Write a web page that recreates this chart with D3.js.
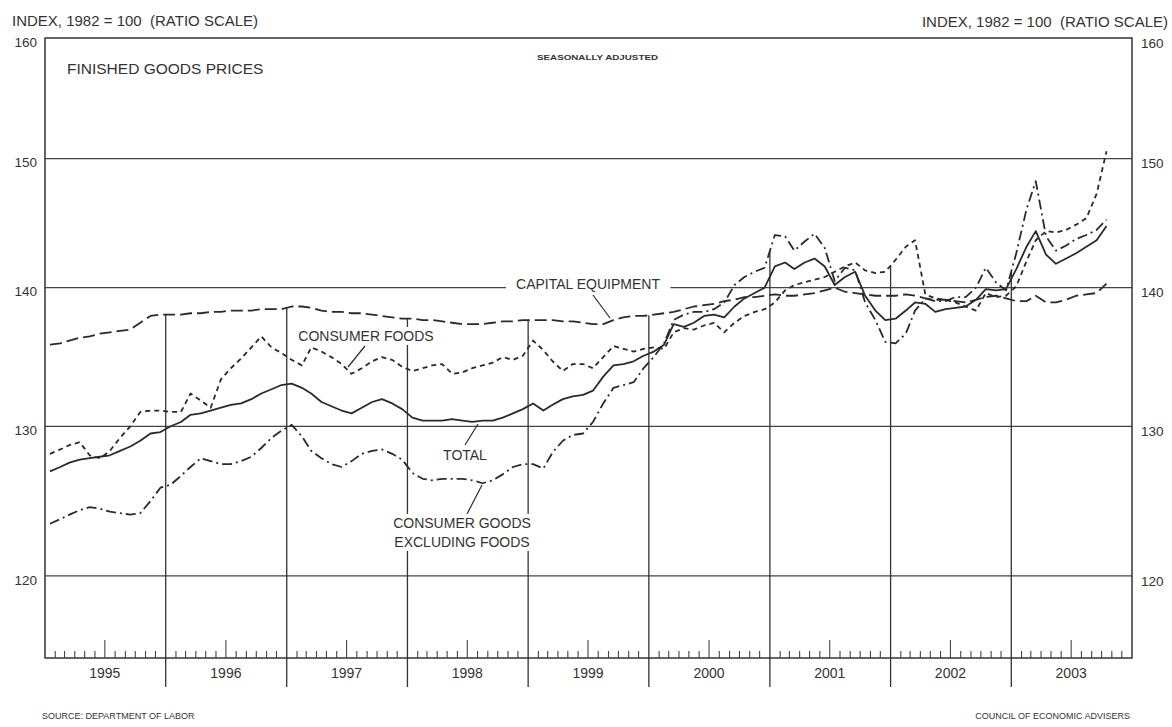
<!DOCTYPE html>
<html>
<head>
<meta charset="utf-8">
<script src="https://cdn.jsdelivr.net/npm/d3@7"></script>
<style>
  html, body { margin: 0; padding: 0; background: #fff; }
  svg text { font-family: 'Liberation Sans', Arial, sans-serif; fill: #333; white-space: pre; }
</style>
</head>
<body>
<svg id="chart" width="1172" height="727"></svg>
<script>
// ---------------- DATA (monthly, seasonally adjusted, Jan 1995 - Oct 2003) ----------------
const firstMonth = [1995, 0];
const monthCount = 106;
const yTicks = [120, 130, 140, 150, 160];
const years = [1995, 1996, 1997, 1998, 1999, 2000, 2001, 2002, 2003];

const capitalEquipment = [
  135.8,135.9,136.1,136.3,136.4,136.6,136.7,136.8,136.9,137.4,137.9,138.0,
  138.0,138.0,138.1,138.1,138.2,138.2,138.3,138.3,138.3,138.4,138.4,138.4,
  138.6,138.6,138.5,138.3,138.2,138.2,138.1,138.1,138.0,137.9,137.8,137.7,
  137.7,137.6,137.6,137.5,137.4,137.3,137.3,137.3,137.4,137.5,137.5,137.6,
  137.6,137.6,137.6,137.5,137.5,137.4,137.3,137.3,137.6,137.8,137.9,137.9,
  138.0,138.1,138.2,138.4,138.6,138.7,138.8,139.0,139.1,139.3,139.3,139.4,
  139.5,139.4,139.4,139.5,139.6,139.8,140.0,139.7,139.6,139.5,139.4,139.4,
  139.4,139.5,139.4,139.2,139.1,139.1,139.0,138.9,139.1,139.3,139.4,139.2,
  139.0,139.0,139.4,138.9,138.9,139.1,139.4,139.5,139.6,140.3
];
const consumerFoods = [
  128.1,128.4,128.7,128.9,128.0,127.8,128.3,129.2,130.0,131.0,131.1,131.1,
  131.0,131.0,132.3,131.8,131.3,133.3,134.1,134.8,135.6,136.4,135.6,135.2,
  134.7,134.3,135.6,135.3,134.9,134.4,133.7,134.1,134.6,134.9,134.7,134.2,
  133.9,134.1,134.3,134.4,133.7,133.8,134.1,134.3,134.5,134.9,134.7,135.0,
  136.1,135.4,134.6,133.9,134.4,134.4,134.1,134.9,135.7,135.5,135.3,135.5,
  135.6,135.5,136.7,137.0,136.9,137.2,137.4,136.7,137.4,137.9,138.2,138.4,
  138.9,139.8,140.2,140.4,140.6,140.8,141.2,141.6,141.9,141.3,141.1,141.2,
  142.1,143.1,143.6,139.5,139.2,139.1,138.9,138.6,138.3,139.6,139.3,139.4,
  140.1,142.0,143.6,144.3,144.2,144.4,144.8,145.3,147.2,150.6
];
const totalFinished = [
  126.9,127.2,127.5,127.7,127.8,127.9,128.0,128.3,128.6,129.0,129.5,129.6,
  130.0,130.3,130.8,130.9,131.1,131.3,131.5,131.6,131.9,132.3,132.6,132.9,
  133.0,132.7,132.3,131.7,131.4,131.1,130.9,131.3,131.7,131.9,131.6,131.2,
  130.6,130.4,130.4,130.4,130.5,130.4,130.3,130.4,130.4,130.6,130.9,131.2,
  131.6,131.1,131.5,131.9,132.1,132.2,132.5,133.5,134.3,134.4,134.6,135.0,
  135.3,135.8,137.3,137.1,137.4,137.9,138.0,137.8,138.6,139.2,139.6,140.0,
  141.6,141.9,141.4,141.9,142.2,141.6,140.2,140.8,141.2,139.4,138.3,137.6,
  137.7,138.3,138.9,138.8,138.2,138.4,138.5,138.6,139.1,139.9,139.8,139.9,
  141.4,143.1,144.3,142.5,141.8,142.2,142.6,143.1,143.6,144.7
];
const consumerGoodsExFoods = [
  123.4,123.7,124.0,124.3,124.5,124.4,124.2,124.1,124.0,124.1,124.9,125.8,
  126.0,126.6,127.2,127.8,127.6,127.4,127.4,127.6,127.9,128.5,129.2,129.7,
  130.1,129.3,128.3,127.8,127.4,127.2,127.6,128.1,128.3,128.4,128.1,127.7,
  126.8,126.4,126.3,126.4,126.4,126.4,126.3,126.1,126.3,126.7,127.2,127.4,
  127.4,127.1,128.2,129.0,129.4,129.5,130.3,131.6,132.7,132.9,133.1,134.1,
  134.9,135.9,137.6,138.0,138.2,138.2,138.4,138.9,140.2,140.8,141.2,141.5,
  144.0,143.9,142.8,143.5,144.1,143.0,140.5,141.5,141.3,138.9,137.6,136.0,
  135.9,136.6,138.3,139.2,139.0,139.0,139.3,139.3,140.0,141.5,140.4,139.8,
  142.6,146.0,148.2,143.9,142.8,143.2,143.7,144.0,144.4,145.2
];

const seriesList = [
  { name: "CAPITAL EQUIPMENT", values: capitalEquipment, dash: "12,5" },
  { name: "CONSUMER FOODS", values: consumerFoods, dash: "5,4" },
  { name: "TOTAL", values: totalFinished, dash: null },
  { name: "CONSUMER GOODS EXCLUDING FOODS", values: consumerGoodsExFoods, dash: "10,4,2,4" }
];

// ---------------- LAYOUT ----------------
const L = 45, R = 1132, T = 38, B = 658;
const svg = d3.select("#chart");
svg.append("rect").attr("width", 1172).attr("height", 727).attr("fill", "#fff");

const months = d3.range(monthCount).map(i => new Date(firstMonth[0], firstMonth[1] + i, 16));
const x = d3.scaleTime().domain([new Date(1995, 0, 1), new Date(2004, 0, 1)]).range([L, R]);
const y = d3.scaleLog().domain([114.85, 160]).range([B, T]);

const ink = "#2a2a2a";

// horizontal grid lines
svg.append("g").selectAll("line").data(yTicks.filter(v => v < 160)).join("line")
  .attr("x1", L).attr("x2", R)
  .attr("y1", d => y(d)).attr("y2", d => y(d))
  .attr("stroke", "#444").attr("stroke-width", 1.3);

// frame
svg.append("rect").attr("x", L).attr("y", T).attr("width", R - L).attr("height", B - T)
  .attr("fill", "none").attr("stroke", "#333").attr("stroke-width", 1.5);

// month ticks (inside, pointing up)
const monthTicks = d3.timeMonth.range(new Date(1995, 1, 1), new Date(2004, 0, 1)).filter(d => d.getMonth() !== 0);
svg.append("g").selectAll("line").data(monthTicks).join("line")
  .attr("x1", d => x(d)).attr("x2", d => x(d))
  .attr("y1", B).attr("y2", d => d.getMonth() === 6 ? B - 18 : B - 7)
  .attr("stroke", "#444").attr("stroke-width", 1.1);

// vertical year separators, starting at the highest series value at the boundary
const boundaries = years.slice(1).map(yr => {
  const k = (yr - 1995) * 12;
  const top = d3.max(seriesList, s => (s.values[k - 1] + s.values[k]) / 2);
  return { date: new Date(yr, 0, 1), top };
});
svg.append("g").selectAll("line").data(boundaries).join("line")
  .attr("x1", d => x(d.date)).attr("x2", d => x(d.date))
  .attr("y1", d => y(d.top)).attr("y2", B + 29)
  .attr("stroke", "#333").attr("stroke-width", 1.3);

// series lines
const line = d3.line().x((d, i) => x(months[i])).y(d => y(d));
svg.append("g").selectAll("path").data(seriesList).join("path")
  .attr("d", d => line(d.values))
  .attr("fill", "none").attr("stroke", ink).attr("stroke-width", 1.8)
  .attr("stroke-linejoin", "round")
  .attr("stroke-dasharray", d => d.dash);

// y tick labels, left and right
svg.append("g").selectAll("text").data(yTicks).join("text")
  .attr("x", 37).attr("y", d => y(d) + 4).attr("dy", "0.35em")
  .attr("text-anchor", "end").attr("font-size", 13.5).text(d => d);
svg.append("g").selectAll("text").data(yTicks).join("text")
  .attr("x", 1141).attr("y", d => y(d) + 5).attr("dy", "0.35em")
  .attr("text-anchor", "start").attr("font-size", 13.5).text(d => d);

// year labels
svg.append("g").selectAll("text").data(years).join("text")
  .attr("x", d => x(new Date(d, 6, 1))).attr("y", 678)
  .attr("text-anchor", "middle").attr("font-size", 14).text(d => d);

// headers
const headerText = "INDEX, 1982 = 100\u00A0\u00A0(RATIO SCALE)";
svg.append("text").attr("x", 12).attr("y", 26).attr("font-size", 15).text(headerText);
svg.append("text").attr("x", 1168).attr("y", 27).attr("text-anchor", "end").attr("font-size", 15).text(headerText);
svg.append("text").attr("x", 67).attr("y", 74).attr("font-size", 15.5).text("FINISHED GOODS PRICES");
svg.append("text").attr("x", 537).attr("y", 60).attr("font-size", 7.5).attr("font-weight", "bold")
  .attr("textLength", 121).attr("lengthAdjust", "spacingAndGlyphs").text("SEASONALLY ADJUSTED");

// footers
svg.append("text").attr("x", 42).attr("y", 719).attr("font-size", 9).text("SOURCE: DEPARTMENT OF LABOR");
svg.append("text").attr("x", 1130).attr("y", 719).attr("text-anchor", "end").attr("font-size", 9).text("COUNCIL OF ECONOMIC ADVISERS");

// series labels with white backgrounds and pointer lines
const labels = [
  { lines: ["CAPITAL EQUIPMENT"], cx: 588, cy: 284, pointer: [[593, 295], [610, 318]], pad: 10 },
  { lines: ["CONSUMER FOODS"], cx: 366, cy: 336, pointer: [[365, 346], [348, 367]], pad: 3 },
  { lines: ["TOTAL"], cx: 465, cy: 455, pointer: [[465, 445], [478, 424]], pad: 3 },
  { lines: ["CONSUMER GOODS", "EXCLUDING FOODS"], cx: 462, cy: 523, pointer: [[467, 514], [482, 485]], pad: 3 }
];
const lg = svg.append("g");
labels.forEach(lb => {
  lg.append("line")
    .attr("x1", lb.pointer[0][0]).attr("y1", lb.pointer[0][1])
    .attr("x2", lb.pointer[1][0]).attr("y2", lb.pointer[1][1])
    .attr("stroke", ink).attr("stroke-width", 1.2);
  const g = lg.append("g");
  const texts = lb.lines.map((t, i) => g.append("text")
    .attr("x", lb.cx).attr("y", lb.cy + i * 19).attr("dy", "0.35em")
    .attr("text-anchor", "middle").attr("font-size", 14).text(t));
  const boxes = texts.map(t => t.node().getBBox());
  const x0 = d3.min(boxes, b => b.x) - lb.pad, x1 = d3.max(boxes, b => b.x + b.width) + lb.pad;
  const y0 = d3.min(boxes, b => b.y) - 1, y1 = d3.max(boxes, b => b.y + b.height) + 1;
  g.insert("rect", "text").attr("x", x0).attr("y", y0).attr("width", x1 - x0).attr("height", y1 - y0).attr("fill", "#fff");
});
</script>
</body>
</html>
